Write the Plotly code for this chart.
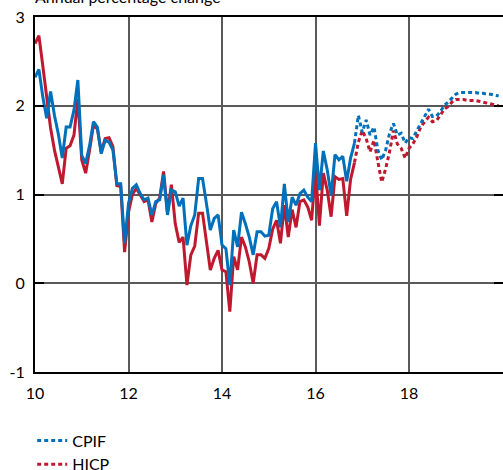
import plotly.graph_objects as go

# Monthly annual percentage change, Jan 2010 - Nov 2016 (outcome)
cpif_outcome = [
    2.32, 2.41, 2.10, 1.86, 2.16, 1.89, 1.68, 1.41, 1.76, 1.76, 1.95, 2.29,   # 2010
    1.44, 1.35, 1.55, 1.82, 1.76, 1.46, 1.61, 1.59, 1.50, 1.12, 1.12, 0.45,   # 2011
    0.90, 1.07, 1.11, 1.01, 0.94, 0.96, 0.77, 0.92, 0.94, 1.22, 0.77, 1.05,   # 2012
    1.03, 0.87, 0.96, 0.43, 0.65, 0.77, 1.18, 1.18, 0.90, 0.60, 0.73, 0.77,   # 2013
    0.43, 0.39, -0.02, 0.60, 0.41, 0.80, 0.67, 0.52, 0.32, 0.58, 0.58, 0.53,  # 2014
    0.54, 0.84, 0.92, 0.63, 1.12, 0.69, 0.97, 0.88, 1.01, 1.05, 0.97, 0.92,   # 2015
    1.58, 1.05, 1.49, 1.28, 0.99, 1.45, 1.39, 1.43, 1.15, 1.41, 1.58,         # 2016
]
hicp_outcome = [
    2.70, 2.79, 2.45, 2.10, 1.75, 1.50, 1.30, 1.12, 1.52, 1.55, 1.67, 2.08,   # 2010
    1.39, 1.24, 1.50, 1.78, 1.74, 1.48, 1.63, 1.64, 1.54, 1.10, 1.09, 0.35,   # 2011
    0.80, 1.00, 1.07, 1.00, 0.92, 0.94, 0.69, 0.90, 0.96, 1.26, 0.80, 1.11,   # 2012
    0.67, 0.46, 0.52, -0.02, 0.32, 0.42, 0.79, 0.79, 0.48, 0.15, 0.28, 0.37,  # 2013
    0.15, 0.13, -0.32, 0.30, 0.15, 0.52, 0.41, 0.24, 0.00, 0.32, 0.32, 0.28,  # 2014
    0.39, 0.61, 0.71, 0.45, 0.88, 0.52, 0.83, 0.63, 0.92, 0.94, 0.86, 0.71,   # 2015
    1.26, 0.65, 1.24, 1.05, 0.75, 1.20, 1.17, 1.18, 0.76, 1.17, 1.36,         # 2016
]

# Forecast, Nov 2016 - Dec 2019 (first value repeats the last outcome)
cpif_forecast = [
    1.58, 1.89,                                                              # Nov-Dec 2016
    1.70, 1.84, 1.67, 1.76, 1.50, 1.39, 1.50, 1.69, 1.80, 1.67, 1.69, 1.58,  # 2017
    1.64, 1.63, 1.72, 1.80, 1.88, 1.96, 1.88, 1.88, 1.93, 2.00, 2.04, 2.08,  # 2018
    2.13, 2.15, 2.15, 2.15, 2.15, 2.15, 2.14, 2.14, 2.13, 2.13, 2.12, 2.11,  # 2019
]
hicp_forecast = [
    1.36, 1.59,                                                              # Nov-Dec 2016
    1.72, 1.63, 1.48, 1.61, 1.37, 1.14, 1.29, 1.48, 1.72, 1.57, 1.52, 1.41,  # 2017
    1.52, 1.57, 1.65, 1.76, 1.82, 1.87, 1.82, 1.83, 1.89, 1.96, 1.99, 2.04,  # 2018
    2.07, 2.07, 2.07, 2.06, 2.06, 2.06, 2.05, 2.04, 2.03, 2.02, 2.01, 2.00,  # 2019
]

x_ticks = [10, 12, 14, 16, 18]
x_tick_labels = ["10", "12", "14", "16", "18"]
y_ticks = [-1, 0, 1, 2, 3]
y_tick_labels = ["-1", "0", "1", "2", "3"]

# Time axis in years since 2000, monthly steps
t_outcome = [10 + i / 12 for i in range(len(cpif_outcome))]
start_fc = len(cpif_outcome) - 1
t_forecast = [10 + (start_fc + i) / 12 for i in range(len(cpif_forecast))]

BLUE = "#0070BA"
RED = "#C0182F"
DOT = "4px,3px"
LW = 3

fig = go.Figure()
fig.add_trace(go.Scatter(x=t_outcome, y=hicp_outcome, mode="lines",
                         line=dict(color=RED, width=LW), showlegend=False))
fig.add_trace(go.Scatter(x=t_forecast, y=hicp_forecast, mode="lines", name="HICP",
                         line=dict(color=RED, width=LW, dash=DOT), legendrank=2))
fig.add_trace(go.Scatter(x=t_outcome, y=cpif_outcome, mode="lines",
                         line=dict(color=BLUE, width=LW), showlegend=False))
fig.add_trace(go.Scatter(x=t_forecast, y=cpif_forecast, mode="lines", name="CPIF",
                         line=dict(color=BLUE, width=LW, dash=DOT), legendrank=1))

# invisible trace to activate the right-hand tick axis
fig.add_trace(go.Scatter(x=[10], y=[0], yaxis="y2", mode="markers",
                         marker=dict(opacity=0), showlegend=False, hoverinfo="skip"))

FONT = "Lato, 'Open Sans', sans-serif"

fig.update_layout(
    width=503, height=470,
    margin=dict(l=35, r=0, t=17, b=98, autoexpand=False),
    paper_bgcolor="white", plot_bgcolor="white",
    font=dict(family=FONT, size=16, color="black"),
    xaxis=dict(
        range=[10, 20.01], tickvals=x_ticks, ticktext=x_tick_labels,
        showgrid=True, gridcolor="#595959", gridwidth=1.5,
        showline=True, linecolor="black", linewidth=2, mirror=True,
        ticks="", zeroline=False, ticklabelstandoff=6,
    ),
    yaxis=dict(
        range=[-1, 3], tickvals=y_ticks, ticktext=y_tick_labels,
        showgrid=True, gridcolor="#595959", gridwidth=1.5,
        showline=True, linecolor="black", linewidth=2,
        ticks="inside", ticklen=9, tickwidth=2, tickcolor="black",
        zeroline=False, ticklabelstandoff=5,
    ),
    yaxis2=dict(
        range=[-1, 3], tickvals=y_ticks, overlaying="y", side="right",
        showgrid=False, showline=False, showticklabels=False,
        ticks="inside", ticklen=9, tickwidth=2, tickcolor="black",
        zeroline=False,
    ),
    legend=dict(x=-0.006, xanchor="left", y=-0.145, yanchor="top",
                bgcolor="rgba(0,0,0,0)", font=dict(size=16)),
    annotations=[dict(text="Annual percentage change", xref="paper", yref="paper",
                      x=-0.004, y=1.058, xanchor="left", yanchor="middle",
                      showarrow=False, font=dict(size=16))],
)

fig.write_html("out.html")
